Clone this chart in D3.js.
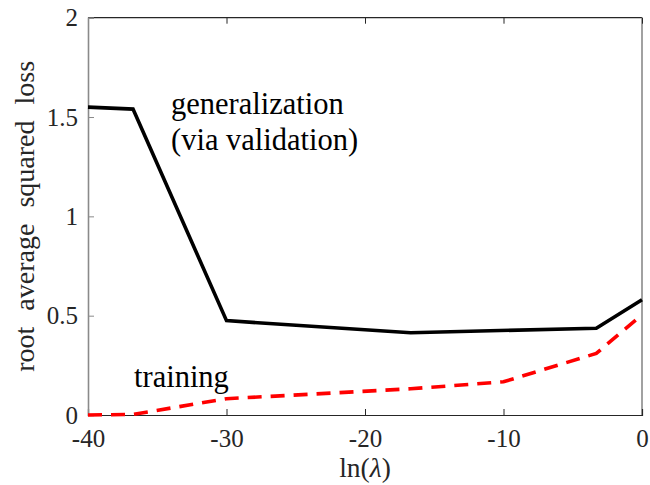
<!DOCTYPE html>
<html>
<head>
<meta charset="utf-8">
<script src="https://cdn.jsdelivr.net/npm/d3@7"></script>
<style>
  html, body { margin: 0; padding: 0; background: #fff; }
</style>
</head>
<body>
<svg id="chart" width="650" height="485"></svg>
<script>
// ---- data ----
const genX = [-40, -36.75, -30, -16.7, -3.3, 0];
const genY = [1.55, 1.54, 0.475, 0.414, 0.437, 0.58];
const trainX = [-40, -36.75, -30, -16.7, -10, -3.3, 0];
const trainY = [0.0, 0.003, 0.082, 0.132, 0.167, 0.31, 0.505];
const xTicks = [-40, -30, -20, -10, 0];
const xTickLabels = ["-40", "-30", "-20", "-10", "0"];
const yTicks = [0, 0.5, 1, 1.5, 2];
const yTickLabels = ["0", "0.5", "1", "1.5", "2"];
const yLabel = "root average squared loss";
const genLabel = ["generalization", "(via validation)"];
const trainLabel = "training";

// pick an installed serif face
const cv = document.createElement("canvas").getContext("2d");
function w(f) { cv.font = "40px " + f; return cv.measureText("generalization Wmil 0.5").width; }
const candidates = ["Liberation Serif", "Times New Roman", "Tinos", "DejaVu Serif"];
let FONT = "serif", sizeK = 1;
for (const c of candidates) {
  const a = w(`'${c}', monospace`), b = w("monospace");
  const a2 = w(`'${c}', sans-serif`), b2 = w("sans-serif");
  if (Math.abs(a - b) > 0.5 || Math.abs(a2 - b2) > 0.5) {
    FONT = `'${c}'`;
    if (c === "DejaVu Serif") sizeK = 0.84;
    break;
  }
}
const fs = s => s * sizeK;

// ---- layout ----
const svg = d3.select("#chart").attr("font-family", FONT);
const L = 88, R = 642, T = 17.7, B = 415;
const x = d3.scaleLinear().domain([-40, 0]).range([L, R]);
const y = d3.scaleLinear().domain([0, 2]).range([B, T]);

// box
svg.append("line").attr("x1", L).attr("x2", R).attr("y1", T).attr("y2", T)
  .attr("stroke", "#262626").attr("stroke-width", 1.2);
svg.append("line").attr("x1", R).attr("x2", R).attr("y1", T).attr("y2", B)
  .attr("stroke", "#8a8a8a").attr("stroke-width", 1.6);

// bottom axis
const xAxis = d3.axisBottom(x).tickValues(xTicks).tickSize(-6).tickPadding(14)
  .tickFormat((d, i) => xTickLabels[i]);
const gx = svg.append("g").attr("transform", `translate(0,${B})`).call(xAxis)
  .attr("font-family", FONT);
gx.select(".domain").attr("stroke", "#262626").attr("stroke-width", 1.2);
gx.selectAll(".tick line").attr("stroke", "#262626");
gx.selectAll("text").attr("font-size", fs(25)).attr("fill", "#262626");

// top ticks
const gxt = svg.append("g").attr("transform", `translate(0,${T})`)
  .call(d3.axisTop(x).tickValues(xTicks).tickSize(-6).tickFormat(""));
gxt.select(".domain").remove();
gxt.selectAll(".tick line").attr("stroke", "#262626");

// left axis
const yAxis = d3.axisLeft(y).tickValues(yTicks).tickSize(-6).tickPadding(10)
  .tickFormat((d, i) => yTickLabels[i]);
const gy = svg.append("g").attr("transform", `translate(${L},0)`).call(yAxis)
  .attr("font-family", FONT);
gy.select(".domain").attr("stroke", "#8a8a8a").attr("stroke-width", 1.6);
gy.selectAll(".tick line").attr("stroke", "#8a8a8a");
gy.selectAll("text").attr("font-size", fs(25)).attr("fill", "#262626");

// lines
const line = d3.line().x(d => x(d[0])).y(d => y(d[1]));
svg.append("path").datum(trainX.map((v, i) => [v, trainY[i]]))
  .attr("d", line).attr("fill", "none").attr("stroke", "#ff0000")
  .attr("stroke-width", 3.6).attr("stroke-dasharray", "14,9");
svg.append("path").datum(genX.map((v, i) => [v, genY[i]]))
  .attr("d", line).attr("fill", "none").attr("stroke", "#000")
  .attr("stroke-width", 3.6).attr("stroke-linejoin", "miter");

// annotations
const ann = svg.append("g").attr("font-size", fs(30.5)).attr("fill", "#000");
ann.append("text").attr("x", 171).attr("y", 114).text(genLabel[0]);
ann.append("text").attr("x", 171).attr("y", 150).text(genLabel[1]);
ann.append("text").attr("x", 134).attr("y", 387).text(trainLabel);

// axis labels
const xl = svg.append("text").attr("x", (L + R) / 2).attr("y", 477)
  .attr("text-anchor", "middle").attr("font-size", fs(27.5)).attr("fill", "#262626");
xl.append("tspan").text("ln(");
xl.append("tspan").attr("font-style", "italic").text("λ");
xl.append("tspan").text(")");

svg.append("text").attr("transform", `translate(34,${(T + B) / 2}) rotate(-90)`)
  .attr("text-anchor", "middle").attr("font-size", fs(28)).attr("fill", "#262626")
  .attr("word-spacing", 9).text(yLabel);
</script>
</body>
</html>
